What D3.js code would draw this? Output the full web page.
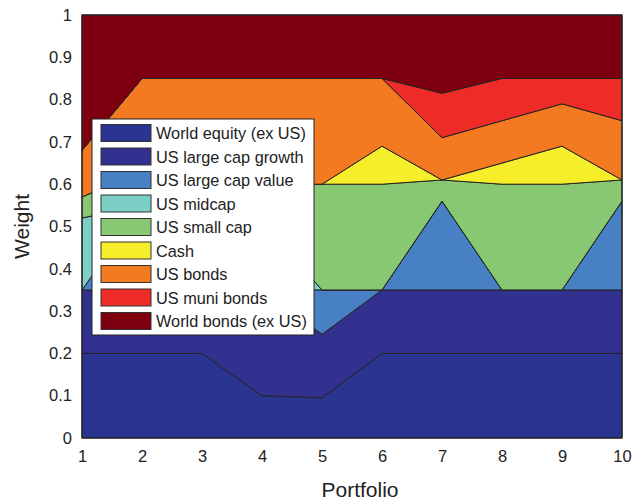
<!DOCTYPE html>
<html>
<head>
<meta charset="utf-8">
<script src="https://cdn.jsdelivr.net/npm/d3@7"></script>
<style>
  html, body { margin: 0; padding: 0; background: #fff; }
  svg { display: block; font-family: "Liberation Sans", Arial, sans-serif; }
</style>
</head>
<body>
<svg id="chart" width="633" height="501"></svg>
<script>
// Portfolio numbers along the x axis
const portfolios = [1, 2, 3, 4, 5, 6, 7, 8, 9, 10];

// Asset classes, bottom to top of the stack
const assetNames = [
  "World equity (ex US)", "US large cap growth", "US large cap value",
  "US midcap", "US small cap", "Cash", "US bonds", "US muni bonds",
  "World bonds (ex US)"
];
const assetColors = [
  "#2a3592", "#33318f", "#4880c4", "#7ccfc4", "#88c872",
  "#f7ee2b", "#f47a22", "#ee2c27", "#7e0010"
];

// Weight of each asset class in each portfolio
const worldEquity   = [0.20, 0.20, 0.20, 0.10, 0.095, 0.20, 0.20, 0.20, 0.20, 0.20];
const largeGrowth   = [0.15, 0.15, 0.15, 0.25, 0.15,  0.15, 0.15, 0.15, 0.15, 0.15];
const largeValue    = [0.00, 0.20, 0.10, 0.00, 0.105, 0.00, 0.21, 0.00, 0.00, 0.21];
const midcap        = [0.17, 0.00, 0.10, 0.16, 0.00,  0.00, 0.00, 0.00, 0.00, 0.00];
const smallCap      = [0.05, 0.08, 0.10, 0.09, 0.25,  0.25, 0.05, 0.25, 0.25, 0.05];
const cash          = [0.00, 0.00, 0.00, 0.00, 0.00,  0.09, 0.00, 0.05, 0.09, 0.00];
const usBonds       = [0.11, 0.22, 0.20, 0.25, 0.25,  0.16, 0.10, 0.10, 0.10, 0.14];
const muniBonds     = [0.00, 0.00, 0.00, 0.00, 0.00,  0.00, 0.105, 0.10, 0.06, 0.10];
const worldBonds    = [0.32, 0.15, 0.15, 0.15, 0.15,  0.15, 0.185, 0.15, 0.15, 0.15];

const yTicks = [0, 0.1, 0.2, 0.3, 0.4, 0.5, 0.6, 0.7, 0.8, 0.9, 1];

const series = [worldEquity, largeGrowth, largeValue, midcap, smallCap,
                cash, usBonds, muniBonds, worldBonds];

// Table of rows for d3.stack
const rows = portfolios.map((p, i) => {
  const r = { portfolio: p };
  assetNames.forEach((name, k) => { r[name] = series[k][i]; });
  return r;
});

const svg = d3.select("#chart");
const margin = { left: 82, right: 11, top: 15, bottom: 63 };
const W = 633 - margin.left - margin.right;
const H = 501 - margin.top - margin.bottom;

const x = d3.scaleLinear().domain([1, 10]).range([0, W]);
const y = d3.scaleLinear().domain([0, 1]).range([H, 0]);

const g = svg.append("g").attr("transform", `translate(${margin.left},${margin.top})`);

const stacked = d3.stack().keys(assetNames)(rows);

const area = d3.area()
  .x(d => x(d.data.portfolio))
  .y0(d => y(d[0]))
  .y1(d => y(d[1]));

g.selectAll("path.layer")
  .data(stacked)
  .join("path")
  .attr("class", "layer")
  .attr("d", area)
  .attr("fill", (d, i) => assetColors[i])
  .attr("stroke", "#222")
  .attr("stroke-width", 1)
  .attr("stroke-linejoin", "round");

// Axes
const yAxis = d3.axisLeft(y).tickValues(yTicks).tickSize(0).tickPadding(10)
  .tickFormat(d => d === 0 || d === 1 ? d3.format("d")(d) : d3.format(".1f")(d));
const xAxis = d3.axisBottom(x).tickValues(portfolios).tickSize(0).tickPadding(12)
  .tickFormat(d3.format("d"));

const ya = g.append("g").call(yAxis);
const xa = g.append("g").attr("transform", `translate(0,${H})`).call(xAxis);
[ya, xa].forEach(a => {
  a.select(".domain").remove();
  a.selectAll("text").attr("font-size", 16.5).attr("fill", "#222")
    .attr("font-family", "Liberation Sans, Arial, sans-serif");
});

// Plot frame
g.append("rect")
  .attr("x", 0).attr("y", 0).attr("width", W).attr("height", H)
  .attr("fill", "none").attr("stroke", "#222").attr("stroke-width", 1.2);

// Axis titles
svg.append("text")
  .attr("x", margin.left + W / 2 + 8).attr("y", 497)
  .attr("text-anchor", "middle").attr("font-size", 21).attr("fill", "#222")
  .text("Portfolio");
svg.append("text")
  .attr("transform", `translate(29,${margin.top + H / 2}) rotate(-90)`)
  .attr("text-anchor", "middle").attr("font-size", 21).attr("fill", "#222")
  .text("Weight");

// Legend
const legend = svg.append("g").attr("transform", "translate(92,119)");
legend.append("rect")
  .attr("width", 222).attr("height", 216)
  .attr("fill", "#fff").attr("stroke", "#222").attr("stroke-width", 1);
const item = legend.selectAll("g.item")
  .data(assetNames)
  .join("g")
  .attr("class", "item")
  .attr("transform", (d, i) => `translate(0,${14 + i * 23.5})`);
item.append("rect")
  .attr("x", 9).attr("y", -8.5).attr("width", 50).attr("height", 17)
  .attr("fill", (d, i) => assetColors[i])
  .attr("stroke", "#333").attr("stroke-width", 1);
item.append("text")
  .attr("x", 64).attr("y", 6)
  .attr("font-size", 16.3).attr("fill", "#222")
  .text(d => d);
</script>
</body>
</html>
